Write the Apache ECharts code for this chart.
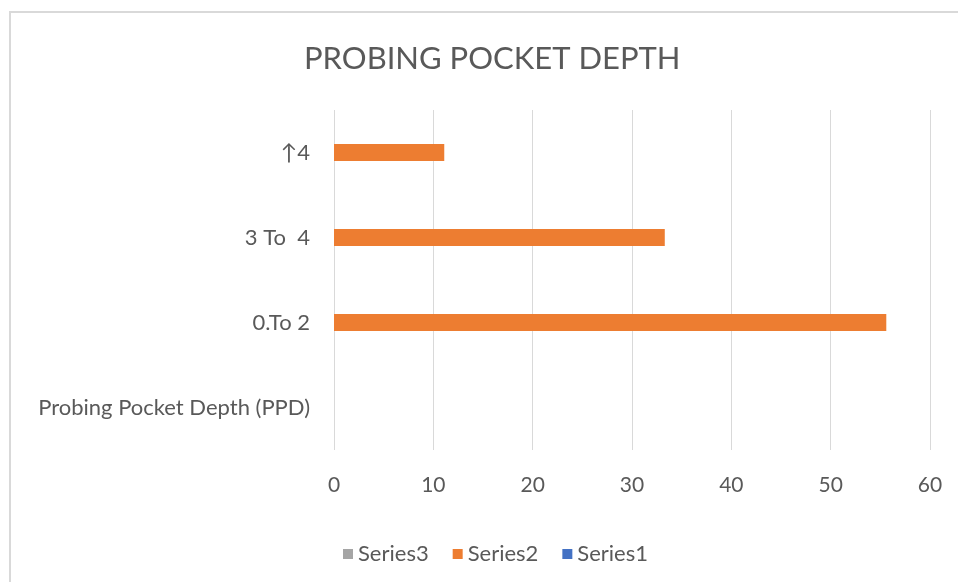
<!DOCTYPE html>
<html>
<head>
<meta charset="utf-8">
<script src="https://cdn.jsdelivr.net/npm/echarts@6/dist/echarts.min.js"></script>
<style>
  html, body { margin: 0; padding: 0; background: #fff; }
  .frame {
    position: absolute;
    left: 9px; top: 11px; width: 960px; height: 580px;
    border: 2px solid #d9d9d9;
    box-sizing: border-box;
  }
  #chart { position: absolute; left: 0; top: 0; width: 958px; height: 582px; }
</style>
</head>
<body>
<div class="frame"></div>
<div id="chart"></div>
<script>
  // categories, bottom to top
  const categories = ['Probing Pocket Depth (PPD)', '0.To 2', '3 To  4', '↑4']
  const series1 = [null, null, null, null]
  const series2 = [null, 55.6, 33.3, 11.1]
  const series3 = [null, null, null, null]
  const xTicks = [0, 10, 20, 30, 40, 50, 60]

  const textColor = '#595959'
  const font = 'Lato, "Open Sans", sans-serif'

  let chart = echarts.init(document.getElementById('chart'))
  chart.setOption({
    animation: false,
    title: {
      text: 'PROBING POCKET DEPTH',
      left: 299,
      top: 38,
      textStyle: { color: textColor, fontFamily: font, fontWeight: 'normal', fontSize: 31 }
    },
    legend: {
      data: ['Series3', 'Series2', 'Series1'],
      left: 338,
      top: 538,
      icon: 'rect',
      itemWidth: 10,
      itemHeight: 10,
      itemGap: 24,
      textStyle: { color: textColor, fontFamily: font, fontSize: 22 }
    },
    grid: { left: 334, right: 28, top: 110, bottom: 132, containLabel: false },
    xAxis: {
      type: 'value',
      min: xTicks[0],
      max: xTicks[xTicks.length - 1],
      interval: 10,
      axisLine: { show: false },
      axisTick: { show: false },
      splitLine: { lineStyle: { color: '#d9d9d9', width: 1 } },
      axisLabel: { color: textColor, fontFamily: font, fontSize: 21, margin: 25 }
    },
    yAxis: {
      type: 'category',
      data: categories,
      axisLine: { show: false },
      axisTick: { show: false },
      axisLabel: { color: textColor, fontFamily: font, fontSize: 22, margin: 24 }
    },
    series: [
      { name: 'Series1', type: 'bar', data: series1, barWidth: 17, barGap: '0%', itemStyle: { color: '#4472c4' } },
      { name: 'Series2', type: 'bar', data: series2, barWidth: 17, barGap: '0%', itemStyle: { color: '#ed7d31' } },
      { name: 'Series3', type: 'bar', data: series3, barWidth: 17, barGap: '0%', itemStyle: { color: '#a5a5a5' } }
    ]
  })
</script>
</body>
</html>
